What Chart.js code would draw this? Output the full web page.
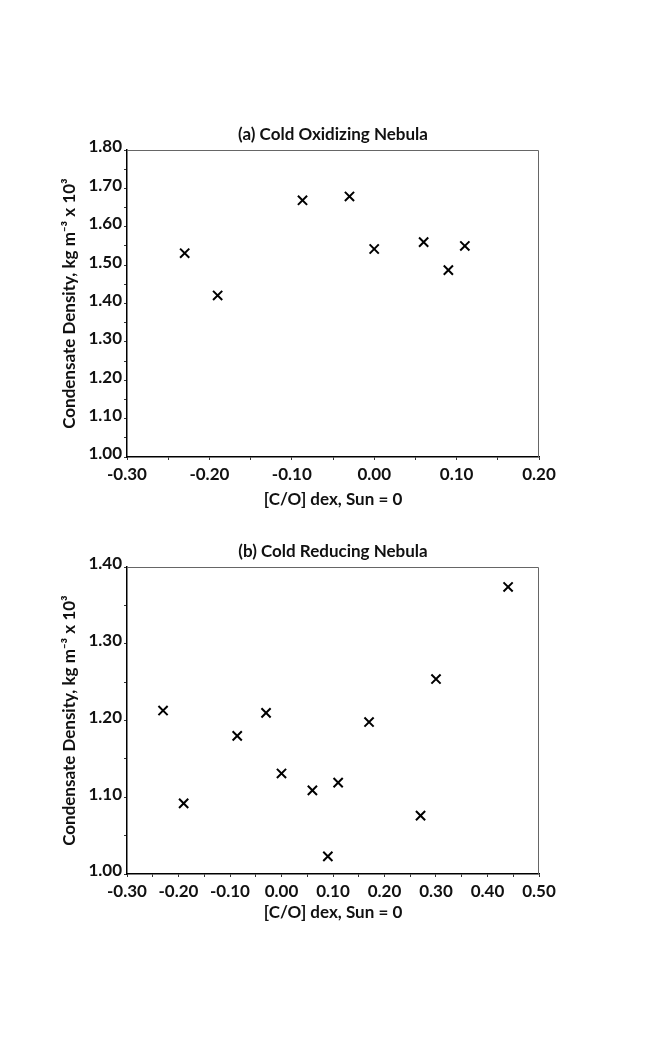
<!DOCTYPE html>
<html>
<head>
<meta charset="utf-8">
<script src="https://cdn.jsdelivr.net/npm/chart.js@4/dist/chart.umd.min.js"></script>
<style>
  body { margin: 0; background: #fff; }
  .box { position: absolute; left: 0; width: 654px; }
  #boxA { top: 100px; height: 430px; }
  #boxB { top: 530px; height: 400px; }
</style>
</head>
<body>
<div class="box" id="boxA"><canvas id="chartA"></canvas></div>
<div class="box" id="boxB"><canvas id="chartB"></canvas></div>
<script>
// (a) Cold Oxidizing Nebula
const oxCO = [-0.23, -0.19, -0.087, -0.03, 0.00, 0.06, 0.09, 0.11];
const oxDensity = [1.531, 1.421, 1.669, 1.679, 1.542, 1.560, 1.487, 1.550];

// (b) Cold Reducing Nebula
const redCO = [-0.23, -0.19, -0.086, -0.03, 0.00, 0.06, 0.09, 0.11, 0.17, 0.27, 0.30, 0.44];
const redDensity = [1.213, 1.092, 1.180, 1.210, 1.131, 1.109, 1.023, 1.119, 1.198, 1.076, 1.254, 1.374];

const xTitle = '[C/O] dex, Sun = 0';
const yTitle = 'Condensate Density, kg m\u207B\u00B3 x 10\u00B3';

const textColor = '#111';
const fontFamily = 'Lato, "Open Sans", sans-serif';
const fontSize = 17;

// label only every 0.10, keep the 0.05 marks as minor ticks
function majorLabel(v) {
    const n = Math.round(v * 100);
    if (n % 10 !== 0) return '';
    if (n === 0) return '0.00';
    return (n / 100).toFixed(2);
}

// frame on top/right plus the panel title above the plot
const framePlugin = {
    id: 'frame',
    afterDraw(chart, args, opts) {
        const a = chart.chartArea;
        const c = chart.ctx;
        c.save();
        c.strokeStyle = '#666';
        c.lineWidth = 1;
        c.beginPath();
        c.moveTo(a.left, a.top + 0.5);
        c.lineTo(a.right - 0.5, a.top + 0.5);
        c.lineTo(a.right - 0.5, a.bottom);
        c.stroke();
        c.fillStyle = textColor;
        c.font = 'bold ' + fontSize + 'px ' + fontFamily;
        c.textAlign = 'center';
        c.textBaseline = 'middle';
        c.fillText(opts.text, (a.left + a.right) / 2, a.top - 15);
        c.restore();
    }
};

function makeChart(id, xs, ys, xMin, xMax, yMin, yMax, panelTitle, pad, xHeight) {
    const ctx = document.getElementById(id).getContext('2d');
    const font = { family: fontFamily, size: fontSize, weight: 'bold' };
    return new Chart(ctx, {
        type: 'scatter',
        data: {
            datasets: [{
                data: xs.map((x, i) => ({ x: x, y: ys[i] })),
                pointStyle: 'crossRot',
                pointRadius: 6.5,
                pointBorderWidth: 2,
                borderColor: '#000',
                backgroundColor: '#000'
            }]
        },
        options: {
            responsive: true,
            maintainAspectRatio: false,
            animation: false,
            layout: { padding: pad },
            plugins: {
                legend: { display: false },
                tooltip: { enabled: false },
                frame: { text: panelTitle }
            },
            scales: {
                x: {
                    type: 'linear',
                    min: xMin,
                    max: xMax,
                    afterFit: s => { s.height = xHeight; },
                    border: { color: '#000', width: 1.5 },
                    grid: { drawOnChartArea: false, drawTicks: true, tickLength: 3, tickColor: '#333' },
                    ticks: {
                        stepSize: 0.05,
                        autoSkip: false,
                        maxRotation: 0,
                        padding: 4,
                        color: textColor,
                        font: font,
                        callback: majorLabel
                    },
                    title: { display: true, text: xTitle, color: textColor, font: font }
                },
                y: {
                    type: 'linear',
                    min: yMin,
                    max: yMax,
                    afterFit: s => { s.width = 72; },
                    border: { color: '#000', width: 1.5 },
                    grid: { drawOnChartArea: false, drawTicks: true, tickLength: 3, tickColor: '#333' },
                    ticks: {
                        stepSize: 0.05,
                        autoSkip: false,
                        padding: 2,
                        labelOffset: -3,
                        color: textColor,
                        font: font,
                        callback: majorLabel
                    },
                    title: { display: true, text: yTitle, color: textColor, font: font }
                }
            }
        },
        plugins: [framePlugin]
    });
}

makeChart('chartA', oxCO, oxDensity, -0.30, 0.20, 1.00, 1.80,
    '(a) Cold Oxidizing Nebula', { top: 50, left: 55, right: 115, bottom: 16 }, 57);
makeChart('chartB', redCO, redDensity, -0.30, 0.50, 1.00, 1.40,
    '(b) Cold Reducing Nebula', { top: 37, left: 55, right: 115, bottom: 3 }, 53);
</script>
</body>
</html>
